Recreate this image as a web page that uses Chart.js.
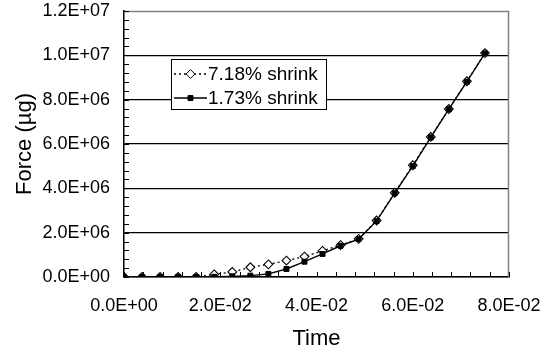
<!DOCTYPE html>
<html>
<head>
<meta charset="utf-8">
<script src="https://cdn.jsdelivr.net/npm/chart.js@4.4.1/dist/chart.umd.min.js"></script>
<style>
  html, body { margin: 0; padding: 0; background: #fff; }
  #wrap { position: relative; width: 540px; height: 354px; }
</style>
</head>
<body>
<div id="wrap"><canvas id="forceChart"></canvas></div>
<script>
// time (x) values
const timeValues = [0, 0.00375, 0.0075, 0.01125, 0.015, 0.01875, 0.0225, 0.02625, 0.03, 0.03375,
  0.0375, 0.04125, 0.045, 0.04875, 0.0525, 0.05625, 0.06, 0.06375, 0.0675, 0.07125, 0.075];

// force values
const shrink718 = [0, 0, 0, 0, 0, 1.2e5, 2.3e5, 4.4e5, 5.7e5, 7.4e5,
  9.2e5, 1.18e6, 1.44e6, 1.72e6, 2.55e6, 3.80e6, 5.04e6, 6.32e6, 7.58e6, 8.83e6, 1.01e7];
const shrink173 = [0, 0, 0, 0, 0, 1e4, 3e4, 6e4, 1.4e5, 3.6e5,
  6.9e5, 1.04e6, 1.41e6, 1.71e6, 2.53e6, 3.78e6, 5.0e6, 6.30e6, 7.57e6, 8.81e6, 1.009e7];

const seriesLabels = ["7.18% shrink", "1.73% shrink"];

const xMajor = 0.02;
const yMajor = 2e6;
const FONT = "Arial, 'Liberation Sans', sans-serif";

const toPoints = (vals) => vals.map((v, i) => ({ x: timeValues[i], y: v }));

const isMajor = (v, step) => Math.abs(v / step - Math.round(v / step)) < 1e-6;

const sciLabel = (v) => {
  const [mant, exp] = v.toExponential(1).split("e");
  const sign = exp[0] === "-" ? "-" : "+";
  const digits = exp.replace(/[+-]/, "").padStart(2, "0");
  return mant + "E" + sign + digits;
};

// inward tick marks + plot frame + boxed legend
const framePlugin = {
  id: "framePlugin",
  afterDraw(chart) {
    const { ctx, chartArea: a, scales } = chart;
    ctx.save();
    // top / right frame in gray
    ctx.strokeStyle = "#808080";
    ctx.lineWidth = 1.5;
    ctx.beginPath();
    ctx.moveTo(a.left, a.top + 0.5);
    ctx.lineTo(a.right - 0.5, a.top + 0.5);
    ctx.lineTo(a.right - 0.5, a.bottom);
    ctx.stroke();

    ctx.strokeStyle = "#000";
    ctx.lineWidth = 1;
    ctx.beginPath();
    scales.x.ticks.forEach((t) => {
      const px = Math.round(scales.x.getPixelForValue(t.value)) + 0.5;
      ctx.moveTo(px, a.bottom);
      ctx.lineTo(px, a.bottom - 5);
    });
    scales.y.ticks.forEach((t) => {
      const py = Math.round(scales.y.getPixelForValue(t.value)) + 0.5;
      ctx.moveTo(a.left, py);
      ctx.lineTo(a.left + 5, py);
    });
    ctx.stroke();

    // legend box
    const lx = a.left + 47, ly = a.top + 48, lw = 155, lh = 50;
    ctx.fillStyle = "#fff";
    ctx.fillRect(lx, ly, lw, lh);
    ctx.strokeStyle = "#000";
    ctx.lineWidth = 1;
    ctx.strokeRect(lx + 0.5, ly + 0.5, lw, lh);

    const rows = [ly + 15, ly + 39];
    chart.data.datasets.forEach((ds, i) => {
      const y = rows[i];
      ctx.save();
      ctx.strokeStyle = "#000";
      ctx.lineWidth = ds.borderWidth;
      ctx.setLineDash(ds.borderDash || []);
      ctx.beginPath();
      ctx.moveTo(lx + 3, y);
      ctx.lineTo(lx + 36, y);
      ctx.stroke();
      ctx.setLineDash([]);
      ctx.fillStyle = ds.pointBackgroundColor;
      ctx.strokeStyle = ds.pointBorderColor;
      ctx.lineWidth = 1;
      Chart.helpers.drawPoint(ctx, {
        pointStyle: ds.pointStyle,
        radius: ds.pointRadius,
        borderWidth: 1
      }, lx + 19.5, y);
      ctx.restore();
      ctx.fillStyle = "#000";
      ctx.font = "19px " + FONT;
      ctx.textBaseline = "middle";
      ctx.fillText(ds.label, lx + 37, y + 1);
    });
    ctx.restore();
  }
};

const ctx = document.getElementById("forceChart").getContext("2d");

new Chart(ctx, {
  type: "line",
  data: {
    datasets: [
      {
        label: seriesLabels[0],
        data: toPoints(shrink718),
        borderColor: "#000",
        borderWidth: 1.3,
        borderDash: [2, 3],
        pointStyle: "rectRot",
        pointRadius: 4.4,
        pointBackgroundColor: "#fff",
        pointBorderColor: "#000",
        pointBorderWidth: 1.1,
        order: 1
      },
      {
        label: seriesLabels[1],
        data: toPoints(shrink173),
        borderColor: "#000",
        borderWidth: 1.4,
        pointStyle: "rect",
        pointRadius: 3.5,
        pointBackgroundColor: "#000",
        pointBorderColor: "#000",
        pointBorderWidth: 1,
        order: 0
      }
    ]
  },
  options: {
    responsive: true,
    maintainAspectRatio: false,
    animation: false,
    layout: { padding: { top: 11, right: 31, left: 0, bottom: 0 } },
    plugins: {
      legend: { display: false },
      tooltip: { enabled: false }
    },
    scales: {
      x: {
        type: "linear",
        min: 0,
        max: 0.08,
        afterFit: (scale) => {
          scale.height = 77;
          scale.paddingLeft = 0;
          scale.paddingRight = 0;
        },
        ticks: {
          stepSize: 0.004,
          autoSkip: false,
          maxRotation: 0,
          padding: 18,
          color: "#000",
          font: { family: FONT, size: 18 },
          callback: (v) => (isMajor(v, xMajor) ? sciLabel(v) : "")
        },
        grid: { drawOnChartArea: false, drawTicks: false },
        border: { color: "#000", width: 1.5 },
        title: {
          display: true,
          text: "Time",
          color: "#000",
          font: { family: FONT, size: 22 },
          padding: { top: 0, bottom: 2 }
        }
      },
      y: {
        min: 0,
        max: 1.2e7,
        afterFit: (scale) => {
          scale.width = 124;
          scale.paddingTop = 0;
          scale.paddingBottom = 0;
        },
        ticks: {
          stepSize: 4e5,
          autoSkip: false,
          padding: 14,
          color: "#000",
          font: { family: FONT, size: 18 },
          callback: (v) => (isMajor(v, yMajor) ? sciLabel(v) : "")
        },
        grid: {
          drawTicks: false,
          color: (c) => (isMajor(c.tick.value, yMajor) && c.tick.value < 1.2e7 ? "#000" : "rgba(0,0,0,0)"),
          lineWidth: 1.2
        },
        border: { color: "#000", width: 1.5 },
        title: {
          display: true,
          text: "Force (\u00b5g)",
          color: "#000",
          font: { family: FONT, size: 22 },
          padding: { top: 12, bottom: 0 }
        }
      }
    }
  },
  plugins: [framePlugin]
});
</script>
</body>
</html>
